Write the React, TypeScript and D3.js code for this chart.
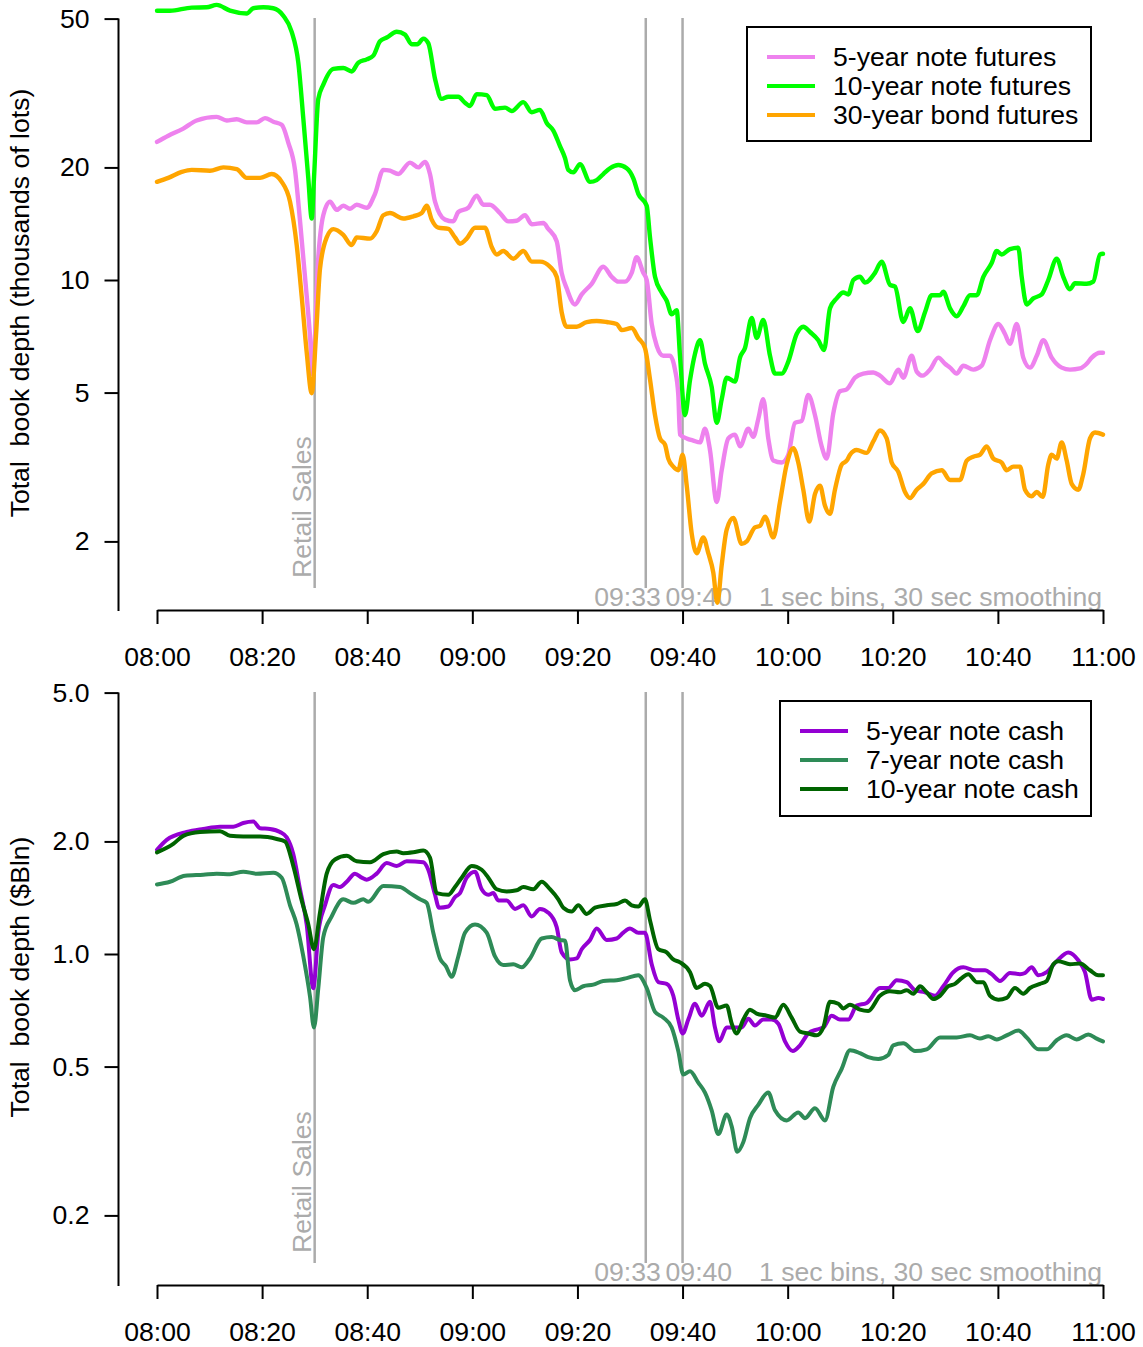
import React, { useEffect, useRef } from 'react';
import * as d3 from 'd3';

type Pt = [number, number];

// minutes after 08:00
const X_TICKS = [0, 20, 40, 60, 80, 100, 120, 140, 160, 180];
const X_TICK_LABELS = ['08:00', '08:20', '08:40', '09:00', '09:20', '09:40', '10:00', '10:20', '10:40', '11:00'];
const EVENT_MINUTES = [30, 93, 100];
const EVENT_LABELS = ['Retail Sales', '09:33', '09:40'];
const NOTE = '1 sec bins, 30 sec smoothing';

const TOP_Y_TICKS = [2, 5, 10, 20, 50];
const TOP_Y_LABELS = ['2', '5', '10', '20', '50'];
const BOTTOM_Y_TICKS = [0.2, 0.5, 1, 2, 5];
const BOTTOM_Y_LABELS = ['0.2', '0.5', '1.0', '2.0', '5.0'];

const FUTURES_NAMES = ['5-year note futures', '10-year note futures', '30-year bond futures'];
const FUTURES_COLORS = ['#EE82EE', '#00FF00', '#FFA500'];
const CASH_NAMES = ['5-year note cash', '7-year note cash', '10-year note cash'];
const CASH_COLORS = ['#9400D3', '#2E8B57', '#006400'];

// thousands of lots
const FUT_5Y: Pt[] = [[0,23.4],[2.15,24.3],[5.0,25.4],[7.55,26.7],[11.36,27.3],[13.26,26.7],[15.16,26.9],[17.07,26.4],[18.97,26.4],[20.55,27.1],[22.13,26.5],[23.73,26.0],[24.98,23.3],[26.26,19.7],[27.21,14.4],[28.16,10.2],[29.11,7.1],[29.6,5.6],[30.69,11.5],[31.64,14.9],[32.92,16.2],[34.19,15.4],[35.45,15.8],[36.72,15.5],[38.0,15.9],[39.9,15.6],[41.48,17.0],[43.06,19.7],[44.33,19.6],[45.91,19.2],[48.14,20.6],[49.72,20.0],[50.99,20.7],[51.94,19.2],[52.9,16.2],[54.8,14.5],[56.38,14.35],[57.33,15.2],[59.23,15.6],[60.83,16.8],[62.09,15.9],[63.36,15.9],[65.26,15.1],[66.84,14.35],[68.44,14.4],[70.02,14.9],[71.3,14.1],[73.5,14.2],[74.45,13.7],[76.05,12.7],[77.0,10.45],[77.95,9.5],[79.53,8.6],[80.81,9.15],[82.71,9.77],[84.92,10.85],[86.52,10.2],[87.78,9.9],[89.05,9.9],[90.32,10.45],[91.27,11.5],[92.53,10.45],[93.18,10.0],[94.13,7.63],[95.08,6.67],[96.33,6.27],[97.61,6.27],[98.56,5.76],[99.19,4.93],[99.51,3.86],[100.79,3.77],[102.04,3.72],[103.32,3.68],[104.27,4.0],[105.22,3.51],[106.5,2.55],[107.45,3.1],[108.7,3.77],[109.98,3.86],[110.93,3.59],[112.51,4.0],[113.46,3.81],[114.41,4.25],[115.36,4.8],[116.31,3.77],[117.27,3.29],[118.86,3.25],[120.12,3.41],[121.39,4.15],[122.67,4.2],[123.92,4.93],[125.2,4.35],[126.47,3.59],[127.43,3.33],[128.68,4.4],[129.96,5.04],[131.24,5.1],[132.81,5.48],[134.39,5.62],[136.29,5.66],[137.56,5.55],[139.47,5.29],[141.05,5.76],[142.0,5.48],[143.6,6.27],[144.55,5.69],[145.69,5.55],[147.08,5.76],[148.66,6.2],[149.94,5.97],[150.89,5.83],[152.16,5.62],[153.42,5.9],[155.32,5.76],[156.92,5.9],[158.5,6.9],[160.08,7.63],[161.35,7.17],[162.3,6.75],[163.58,7.63],[164.83,6.2],[166.11,5.83],[167.39,6.27],[168.64,6.9],[170.24,6.2],[172.14,5.83],[173.72,5.76],[175.62,5.8],[176.89,5.97],[177.85,6.2],[179.43,6.39],[180,6.39]];
const FUT_10Y: Pt[] = [[0,52.5],[2.47,52.5],[6.6,53.5],[9.46,53.6],[11.36,54.4],[13.89,52.5],[17.07,51.6],[18.32,53.3],[20.23,53.6],[22.13,53.3],[24.03,50.9],[25.63,46.1],[26.89,38.1],[27.84,27.0],[28.79,18.7],[29.44,14.6],[29.87,18.7],[30.69,30.5],[31.64,33.3],[33.55,36.7],[35.45,36.9],[37.05,36.1],[38.3,38.1],[39.9,38.9],[41.16,39.8],[42.43,43.5],[43.71,44.5],[45.61,46.1],[47.19,45.3],[48.46,42.7],[49.53,42.7],[50.67,44.2],[51.62,43.0],[52.9,34.5],[54.17,30.5],[55.43,30.9],[57.33,30.9],[58.6,29.8],[59.56,29.2],[60.83,31.4],[62.73,31.2],[64.31,28.7],[66.22,28.9],[67.49,28.3],[69.7,29.9],[71.3,28.1],[72.87,28.5],[74.15,26.3],[75.41,25.1],[76.68,22.8],[77.63,21.2],[78.26,19.7],[79.21,19.4],[80.49,20.4],[82.39,18.3],[83.66,18.5],[84.92,19.2],[86.19,19.9],[87.78,20.3],[89.37,19.9],[90.63,18.7],[91.58,17.0],[93.18,15.8],[93.81,13.0],[94.76,10.2],[96.03,9.26],[96.98,8.8],[97.93,8.1],[98.88,8.3],[99.51,6.27],[100.46,4.35],[101.42,5.4],[102.37,6.35],[103.32,6.9],[104.27,5.97],[105.54,5.18],[106.5,4.15],[107.45,4.8],[108.4,5.48],[109.98,5.35],[110.93,6.2],[111.88,6.58],[113.16,7.92],[114.1,7.0],[115.36,7.82],[116.64,6.27],[117.59,5.62],[118.86,5.62],[120.12,6.05],[121.71,7.17],[122.97,7.5],[124.25,7.26],[125.83,6.9],[126.91,6.5],[128.05,8.4],[129.32,8.93],[130.59,9.26],[131.54,9.15],[132.49,10.0],[133.76,10.2],[134.71,9.84],[136.61,10.45],[137.88,11.2],[139.47,9.7],[140.42,9.6],[142.0,7.72],[143.28,8.4],[144.74,7.3],[146.13,8.2],[147.4,9.1],[148.98,9.1],[149.61,9.3],[150.89,8.4],[152.16,8.0],[153.42,8.5],[154.69,9.1],[155.97,9.1],[157.23,10.2],[158.82,11.1],[159.77,11.95],[160.72,11.7],[162.3,12.1],[163.88,12.2],[164.53,10.2],[165.48,8.6],[166.74,8.93],[168.34,9.15],[169.59,10.0],[171.19,11.4],[172.44,10.2],[173.72,9.45],[174.67,9.8],[176.89,9.77],[178.15,9.9],[179.43,11.7],[180,11.75]];
const FUT_30Y: Pt[] = [[0,18.3],[2.15,18.75],[4.7,19.45],[6.6,19.7],[10.08,19.6],[12.62,20.0],[15.16,19.8],[17.07,18.75],[19.6,18.75],[21.82,19.2],[23.73,18.3],[25.31,16.2],[26.58,12.4],[27.53,9.04],[28.48,6.42],[29.44,4.98],[30.25,7.1],[31.01,10.7],[32.29,13.0],[33.55,13.68],[35.45,13.2],[37.05,12.4],[38.0,13.0],[40.53,12.9],[41.8,13.5],[43.06,14.9],[44.33,15.1],[46.86,14.6],[48.77,14.8],[50.37,15.1],[51.32,15.8],[52.27,14.5],[53.52,13.8],[55.43,13.7],[56.7,13.0],[57.65,12.5],[58.93,12.9],[60.51,13.8],[62.41,13.8],[63.69,12.25],[64.64,11.7],[65.89,11.95],[67.8,11.4],[69.7,11.95],[71.3,11.2],[72.87,11.2],[74.78,10.85],[76.05,10.2],[77.0,8.2],[77.95,7.5],[79.86,7.5],[81.76,7.72],[83.66,7.77],[85.57,7.72],[87.47,7.63],[88.42,7.35],[90.32,7.44],[91.58,7.0],[92.85,6.58],[93.81,5.42],[94.76,4.35],[95.71,3.77],[96.66,3.63],[97.28,3.33],[98.24,3.17],[99.19,3.1],[100.02,3.41],[100.79,2.82],[101.74,2.1],[102.69,1.86],[103.95,2.05],[104.9,1.86],[105.85,1.65],[106.61,1.37],[107.45,1.73],[108.4,2.15],[109.66,2.31],[111.25,1.97],[112.2,2.0],[113.78,2.18],[114.74,2.2],[115.69,2.33],[117.27,2.05],[118.54,2.55],[119.81,3.21],[121.07,3.55],[122.02,3.25],[122.97,2.75],[124.11,2.26],[125.2,2.68],[126.15,2.82],[127.1,2.49],[128.05,2.37],[129.0,2.75],[130.28,3.21],[131.24,3.29],[131.86,3.41],[133.13,3.51],[135.03,3.45],[136.29,3.7],[137.56,3.96],[138.84,3.77],[139.79,3.25],[141.05,3.07],[142.33,2.71],[143.28,2.61],[144.55,2.75],[145.81,2.85],[147.4,3.04],[149.31,3.1],[150.89,2.92],[152.79,2.92],[154.07,3.29],[155.32,3.37],[156.59,3.41],[157.87,3.59],[159.13,3.33],[160.72,3.25],[161.67,3.1],[162.93,3.17],[164.21,3.17],[165.16,2.75],[166.43,2.64],[167.39,2.71],[168.53,2.63],[169.59,3.21],[170.24,3.41],[171.19,3.33],[172.14,3.68],[173.09,3.29],[174.04,2.85],[175.3,2.75],[176.25,3.03],[177.52,3.77],[178.48,3.91],[180,3.86]];

// $Bln
const CASH_5Y: Pt[] = [[0,1.9],[1.85,2.02],[5.65,2.12],[8.81,2.16],[11.99,2.19],[14.52,2.19],[16.42,2.24],[18.32,2.26],[19.6,2.17],[21.5,2.16],[23.4,2.12],[24.68,2.05],[25.93,1.85],[27.21,1.49],[28.48,1.2],[29.74,0.81],[30.69,1.14],[31.97,1.35],[33.55,1.53],[34.82,1.51],[36.1,1.56],[37.67,1.64],[38.95,1.6],[39.9,1.58],[41.8,1.64],[43.71,1.75],[45.61,1.72],[47.51,1.77],[50.67,1.76],[51.62,1.68],[52.9,1.44],[53.66,1.33],[55.43,1.34],[56.7,1.42],[57.65,1.455],[58.93,1.6],[60.51,1.66],[61.78,1.49],[63.04,1.44],[63.99,1.455],[64.94,1.39],[66.54,1.39],[68.12,1.32],[69.7,1.35],[71.3,1.26],[72.87,1.32],[74.45,1.29],[76.05,1.18],[77.0,1.01],[78.58,0.967],[79.86,0.973],[80.81,1.03],[82.39,1.09],[83.66,1.17],[85.57,1.09],[87.47,1.1],[88.73,1.14],[90.0,1.17],[91.58,1.14],[92.85,1.14],[94.13,0.939],[95.39,0.841],[96.98,0.832],[98.24,0.773],[99.19,0.668],[100.02,0.613],[101.09,0.668],[102.37,0.736],[103.64,0.684],[105.22,0.745],[106.17,0.636],[106.99,0.584],[108.4,0.636],[109.98,0.636],[111.25,0.636],[112.51,0.671],[113.78,0.644],[115.36,0.668],[116.96,0.668],[118.22,0.651],[119.49,0.584],[120.96,0.55],[122.35,0.57],[123.92,0.613],[125.52,0.628],[126.78,0.636],[128.38,0.684],[129.96,0.668],[131.54,0.668],[133.13,0.728],[135.03,0.74],[135.66,0.755],[136.93,0.8],[137.56,0.811],[139.14,0.811],[140.74,0.851],[142.65,0.841],[144.23,0.8],[146.13,0.79],[148.03,0.773],[149.61,0.82],[151.52,0.894],[153.42,0.921],[155.64,0.905],[157.55,0.905],[158.82,0.883],[160.4,0.847],[162.3,0.89],[164.21,0.883],[165.16,0.89],[166.43,0.921],[167.69,0.877],[169.29,0.894],[171.19,0.957],[173.39,1.01],[175.3,0.962],[176.57,0.894],[177.85,0.755],[179.11,0.763],[180,0.758]];
const CASH_7Y: Pt[] = [[0,1.535],[2.47,1.56],[5.33,1.62],[8.81,1.63],[11.36,1.64],[13.89,1.635],[16.42,1.66],[18.97,1.64],[22.13,1.65],[23.73,1.6],[25.31,1.35],[26.58,1.2],[27.84,0.985],[29.11,0.77],[29.87,0.636],[30.69,0.81],[31.64,1.11],[33.24,1.26],[35.45,1.4],[37.35,1.37],[39.25,1.4],[40.2,1.38],[43.06,1.52],[46.24,1.51],[48.14,1.455],[50.04,1.4],[51.32,1.37],[52.57,1.14],[53.85,0.973],[54.99,0.927],[56.07,0.869],[57.33,0.985],[58.6,1.14],[60.51,1.2],[62.73,1.14],[64.31,0.985],[65.89,0.934],[67.8,0.939],[69.39,0.921],[70.97,0.973],[73.2,1.1],[75.1,1.11],[76.68,1.09],[77.63,1.085],[78.58,0.851],[79.53,0.8],[81.11,0.82],[83.01,0.828],[84.92,0.847],[87.47,0.851],[89.37,0.862],[91.58,0.877],[93.18,0.811],[94.76,0.7],[96.33,0.676],[97.93,0.636],[99.19,0.55],[100.14,0.476],[101.42,0.486],[102.99,0.453],[104.27,0.426],[105.54,0.382],[106.8,0.33],[108.4,0.372],[109.35,0.346],[110.42,0.296],[111.56,0.314],[112.83,0.364],[114.41,0.395],[116.31,0.426],[117.59,0.382],[119.81,0.359],[122.02,0.377],[123.3,0.364],[125.2,0.387],[127.1,0.359],[128.68,0.441],[130.28,0.493],[131.86,0.553],[133.76,0.543],[135.33,0.53],[137.23,0.524],[139.14,0.537],[140.09,0.57],[142.0,0.577],[144.23,0.55],[146.45,0.556],[148.98,0.598],[152.16,0.598],[154.69,0.606],[156.59,0.594],[158.18,0.603],[159.77,0.591],[161.98,0.609],[163.88,0.624],[165.48,0.598],[167.69,0.556],[169.29,0.556],[171.19,0.588],[173.09,0.606],[174.99,0.591],[177.2,0.609],[178.8,0.594],[180,0.584]];
const CASH_10Y: Pt[] = [[0,1.87],[3.1,1.97],[5.0,2.07],[8.18,2.12],[11.99,2.13],[13.89,2.07],[16.42,2.06],[19.6,2.06],[22.78,2.03],[24.36,2.0],[25.93,1.72],[27.53,1.39],[28.79,1.2],[29.87,1.03],[31.01,1.29],[32.29,1.64],[33.87,1.79],[36.1,1.83],[38.0,1.77],[40.53,1.76],[43.06,1.85],[45.61,1.88],[46.86,1.86],[48.77,1.87],[50.67,1.89],[51.94,1.81],[53.22,1.455],[55.43,1.44],[56.7,1.51],[57.98,1.6],[59.88,1.72],[61.78,1.68],[63.04,1.6],[64.64,1.49],[66.54,1.47],[68.44,1.48],[69.7,1.51],[71.6,1.49],[73.2,1.56],[74.78,1.49],[76.36,1.4],[77.31,1.33],[78.91,1.3],[80.16,1.35],[81.76,1.28],[83.34,1.33],[85.57,1.35],[87.47,1.36],[89.05,1.39],[90.32,1.35],[91.58,1.34],[92.85,1.4],[93.81,1.23],[95.39,1.03],[96.98,1.01],[98.24,0.967],[99.51,0.95],[101.42,0.894],[102.69,0.811],[104.27,0.832],[105.22,0.821],[106.8,0.718],[108.4,0.728],[109.35,0.652],[110.3,0.613],[111.56,0.668],[112.83,0.71],[114.1,0.693],[116.01,0.684],[117.59,0.676],[119.17,0.732],[120.76,0.676],[122.35,0.62],[123.92,0.613],[125.52,0.606],[126.78,0.636],[128.05,0.745],[129.64,0.736],[130.59,0.715],[131.86,0.732],[133.76,0.71],[135.33,0.704],[137.56,0.773],[139.47,0.795],[141.37,0.79],[142.65,0.8],[143.91,0.783],[145.18,0.82],[146.45,0.79],[147.71,0.758],[148.98,0.773],[150.56,0.82],[151.84,0.832],[153.11,0.862],[154.37,0.883],[155.97,0.841],[157.23,0.841],[158.5,0.773],[160.08,0.755],[161.67,0.763],[163.25,0.811],[164.83,0.783],[166.11,0.811],[168.01,0.832],[169.29,0.847],[170.54,0.939],[171.49,0.957],[173.72,0.939],[175.62,0.943],[177.52,0.905],[179.11,0.877],[180,0.877]];

const FONT = '"Liberation Sans", Arial, Helvetica, sans-serif';
const FS = 26.6;
const GREY = '#ABABAB';

export default function App() {
  const svgRef = useRef<SVGSVGElement | null>(null);

  useEffect(() => {
    const svg = d3.select(svgRef.current);
    svg.selectAll('*').remove();

    const x = d3.scaleLinear().domain([0, 180]).range([157, 1103]);

    const panels = [
      {
        series: [FUT_5Y, FUT_10Y, FUT_30Y], names: FUTURES_NAMES, colors: FUTURES_COLORS,
        ticks: TOP_Y_TICKS, labels: TOP_Y_LABELS, lw: 4.4,
        y: d3.scaleLog().domain([2, 50]).range([541.4, 18.6]),
        axisTop: 18.6, axisY: 610, title: 'Total  book depth (thousands of lots)', titleY: 303,
        vTop: 18, vBottom: 588, retailY: 578, noteY: 606,
        legend: { x: 747, y: 27, w: 344, h: 114, row0: 57, l0: 767, l1: 815, tx: 833 },
      },
      {
        series: [CASH_5Y, CASH_7Y, CASH_10Y], names: CASH_NAMES, colors: CASH_COLORS,
        ticks: BOTTOM_Y_TICKS, labels: BOTTOM_Y_LABELS, lw: 4,
        y: d3.scaleLog().domain([0.2, 5]).range([1215.4, 692.6]),
        axisTop: 692.6, axisY: 1285, title: 'Total  book depth ($Bln)', titleY: 977,
        vTop: 692, vBottom: 1263, retailY: 1253, noteY: 1281,
        legend: { x: 780, y: 701, w: 311, h: 115, row0: 731, l0: 800, l1: 848, tx: 866 },
      },
    ];

    panels.forEach(p => {
      const g = svg.append('g');

      // event lines
      g.selectAll('line.event').data(EVENT_MINUTES).join('line').attr('class', 'event')
        .attr('x1', d => x(d)).attr('x2', d => x(d)).attr('y1', p.vTop).attr('y2', p.vBottom)
        .attr('stroke', GREY).attr('stroke-width', 2.5);

      g.append('text').attr('transform', `translate(${x(EVENT_MINUTES[0]) - 4},${p.retailY}) rotate(-90)`)
        .attr('fill', GREY).attr('font-size', FS).attr('font-family', FONT).text(EVENT_LABELS[0]);
      g.append('text').attr('x', x(EVENT_MINUTES[1]) + 15).attr('y', p.noteY).attr('text-anchor', 'end')
        .attr('fill', GREY).attr('font-size', FS).attr('font-family', FONT).text(EVENT_LABELS[1]);
      g.append('text').attr('x', x(EVENT_MINUTES[2]) - 17).attr('y', p.noteY)
        .attr('fill', GREY).attr('font-size', FS).attr('font-family', FONT).text(EVENT_LABELS[2]);
      g.append('text').attr('x', x(180) - 1).attr('y', p.noteY).attr('text-anchor', 'end')
        .attr('fill', GREY).attr('font-size', FS).attr('font-family', FONT).text(NOTE);

      // series
      const line = d3.line<Pt>().x(d => x(d[0])).y(d => p.y(d[1])).curve(d3.curveMonotoneX);
      p.series.forEach((s, i) => {
        g.append('path').datum(s).attr('d', line).attr('fill', 'none')
          .attr('stroke', p.colors[i]).attr('stroke-width', p.lw)
          .attr('stroke-linejoin', 'round').attr('stroke-linecap', 'round');
      });

      // x axis
      const gx = g.append('g').attr('transform', `translate(0,${p.axisY})`)
        .call(d3.axisBottom(x).tickValues(X_TICKS).tickFormat((_, i) => X_TICK_LABELS[i])
          .tickSizeInner(14).tickSizeOuter(0).tickPadding(23));
      gx.attr('font-size', FS).attr('font-family', FONT);
      gx.selectAll('path, line').attr('stroke-width', 2).attr('stroke', '#000');
      gx.selectAll('text').attr('fill', '#000');

      // y axis
      const gy = g.append('g').attr('transform', 'translate(118.5,0)')
        .call(d3.axisLeft(p.y).tickValues(p.ticks).tickFormat((_, i) => p.labels[i])
          .tickSizeInner(14).tickSizeOuter(0).tickPadding(15));
      gy.attr('font-size', FS).attr('font-family', FONT);
      gy.select('.domain').remove();
      gy.append('line').attr('x1', 0).attr('x2', 0).attr('y1', p.axisTop).attr('y2', p.axisY + 1)
        .attr('stroke', '#000').attr('stroke-width', 2);
      gy.selectAll('line').attr('stroke-width', 2).attr('stroke', '#000');
      gy.selectAll('text').attr('fill', '#000');

      g.append('text').attr('transform', `translate(29,${p.titleY}) rotate(-90)`)
        .attr('text-anchor', 'middle').attr('font-size', FS).attr('font-family', FONT)
        .attr('fill', '#000').attr('xml:space', 'preserve').style('white-space', 'pre').text(p.title);

      // legend
      const L = p.legend;
      g.append('rect').attr('x', L.x).attr('y', L.y).attr('width', L.w).attr('height', L.h)
        .attr('fill', '#fff').attr('stroke', '#000').attr('stroke-width', 2);
      p.names.forEach((name, i) => {
        const ry = L.row0 + i * 29;
        g.append('line').attr('x1', L.l0).attr('x2', L.l1).attr('y1', ry).attr('y2', ry)
          .attr('stroke', p.colors[i]).attr('stroke-width', 4);
        g.append('text').attr('x', L.tx).attr('y', ry).attr('dy', '0.35em')
          .attr('font-size', FS).attr('font-family', FONT).attr('fill', '#000').text(name);
      });
    });
  }, []);

  return (
    <div style={{ width: 1143, height: 1347 }}>
      <style>{'body{margin:0}'}</style>
      <svg ref={svgRef} width={1143} height={1347} style={{ display: 'block', background: '#fff' }} />
    </div>
  );
}
